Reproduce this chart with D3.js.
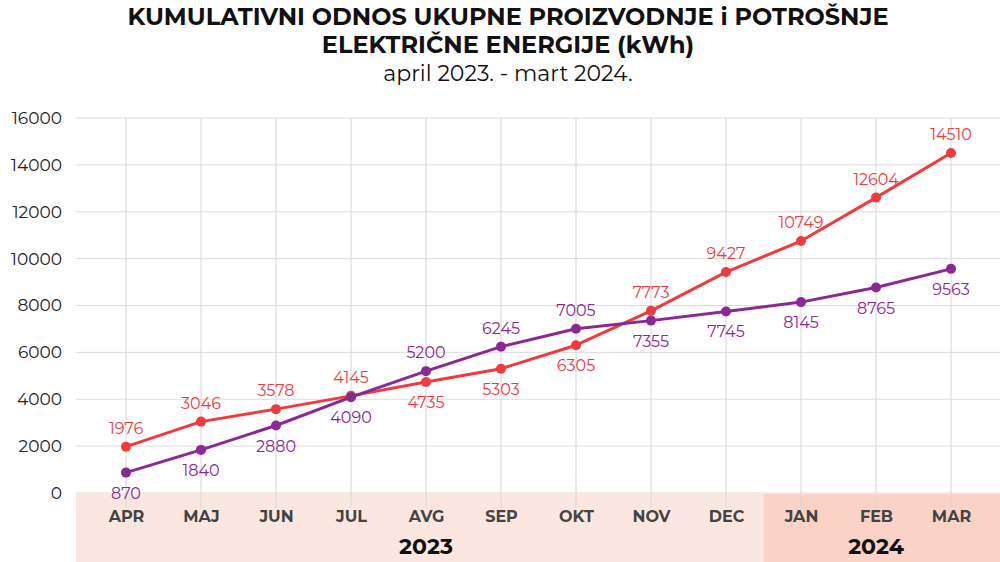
<!DOCTYPE html>
<html>
<head>
<meta charset="utf-8">
<script src="https://cdn.jsdelivr.net/npm/d3@7"></script>
<style>
  body { margin: 0; background: #fff; }
  svg { font-family: Montserrat, Inter, "Open Sans", sans-serif; }
</style>
</head>
<body>
<div id="chart_area"></div>
<script>
// data
var months = ["APR", "MAJ", "JUN", "JUL", "AVG", "SEP", "OKT", "NOV", "DEC", "JAN", "FEB", "MAR"];
var years = [
    { year: "2023", from: "APR", to: "DEC" },
    { year: "2024", from: "JAN", to: "MAR" }
];
var potrosnja = [1976, 3046, 3578, 4145, 4735, 5303, 6305, 7773, 9427, 10749, 12604, 14510];
var proizvodnja = [870, 1840, 2880, 4090, 5200, 6245, 7005, 7355, 7745, 8145, 8765, 9563];
var yTicks = [0, 2000, 4000, 6000, 8000, 10000, 12000, 14000, 16000];

var width = 1000, height = 562;
var red = "#ef3b3e", purple = "#8a2894";

var svg = d3.select("#chart_area")
    .append("svg")
    .attr("width", width)
    .attr("height", height);

var x = d3.scalePoint().domain(months).range([126, 951]);
var y = d3.scaleLinear().domain([0, 16000]).range([493, 118]);
var step = x.step();

// title
var title = svg.append("g").attr("text-anchor", "middle");
title.append("text").attr("x", 508).attr("y", 25)
    .attr("font-size", 24).attr("font-weight", 700).attr("fill", "#111")
    .text("KUMULATIVNI ODNOS UKUPNE PROIZVODNJE i POTROŠNJE");
title.append("text").attr("x", 508).attr("y", 53)
    .attr("font-size", 24).attr("font-weight", 700).attr("fill", "#111")
    .text("ELEKTRIČNE ENERGIJE (kWh)");
title.append("text").attr("x", 508).attr("y", 81)
    .attr("font-size", 22).attr("fill", "#111")
    .text("april 2023. - mart 2024.");

// bottom band
years.forEach(function(yr, i) {
    var x0 = i === 0 ? 76 : x(yr.from) - step / 2;
    var x1 = i === years.length - 1 ? width : x(yr.to) + step / 2;
    svg.append("rect")
        .attr("x", x0).attr("y", 494)
        .attr("width", x1 - x0).attr("height", height - 494)
        .attr("fill", i === 0 ? "#fce7e0" : "#fbd3c6");
    svg.append("text")
        .attr("x", (x(yr.from) + x(yr.to)) / 2).attr("y", 554)
        .attr("text-anchor", "middle")
        .attr("font-size", 22).attr("font-weight", 700).attr("fill", "#111")
        .text(yr.year);
});

// grid
svg.append("g").selectAll("line.h").data(yTicks).enter().append("line")
    .attr("x1", 76).attr("x2", width)
    .attr("y1", function(d) { return y(d); })
    .attr("y2", function(d) { return y(d); })
    .attr("stroke", "#dcdcdc").attr("stroke-width", 1);

svg.append("g").selectAll("line.v").data(months).enter().append("line")
    .attr("x1", function(d) { return x(d); })
    .attr("x2", function(d) { return x(d); })
    .attr("y1", 118).attr("y2", 508)
    .attr("stroke", "#d6d6d6").attr("stroke-width", 1);

// y axis labels
var yAxis = d3.axisLeft(y).tickValues(yTicks).tickFormat(d3.format("d")).tickSize(0).tickPadding(0);
var gy = svg.append("g").attr("transform", "translate(62,0)").call(yAxis);
gy.select(".domain").remove();
gy.selectAll("text")
    .attr("font-family", "Montserrat, Inter, 'Open Sans', sans-serif")
    .attr("font-size", 17).attr("fill", "#222");

// x axis labels
var xAxis = d3.axisBottom(x).tickSize(0).tickPadding(0);
var gx = svg.append("g").attr("transform", "translate(0,511)").call(xAxis);
gx.select(".domain").remove();
gx.selectAll("text")
    .attr("font-family", "Montserrat, Inter, 'Open Sans', sans-serif")
    .attr("font-size", 16).attr("font-weight", 700).attr("fill", "#444");

// series
var series = [
    { name: "potrosnja", values: potrosnja, other: proizvodnja, color: red },
    { name: "proizvodnja", values: proizvodnja, other: potrosnja, color: purple }
];

var line = d3.line()
    .x(function(d, i) { return x(months[i]); })
    .y(function(d) { return y(d); });

series.forEach(function(s) {
    svg.append("path")
        .datum(s.values)
        .attr("d", line)
        .attr("fill", "none")
        .attr("stroke", s.color)
        .attr("stroke-width", 3)
        .attr("stroke-linejoin", "round");

    svg.append("g").selectAll("circle").data(s.values).enter().append("circle")
        .attr("cx", function(d, i) { return x(months[i]); })
        .attr("cy", function(d) { return y(d); })
        .attr("r", 5)
        .attr("fill", s.color);

    // label above when this series is the higher one, below otherwise
    svg.append("g").selectAll("text").data(s.values).enter().append("text")
        .attr("x", function(d, i) { return x(months[i]); })
        .attr("y", function(d, i) { return d >= s.other[i] ? y(d) - 13 : y(d) + 26; })
        .attr("text-anchor", "middle")
        .attr("font-size", 16)
        .attr("fill", s.color)
        .text(function(d) { return d; });
});
</script>
</body>
</html>
